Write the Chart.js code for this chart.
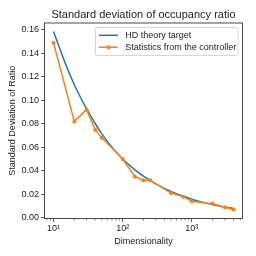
<!DOCTYPE html>
<html>
<head>
<meta charset="utf-8">
<script src="https://cdn.jsdelivr.net/npm/chart.js@4"></script>
<style>
html,body{margin:0;padding:0;background:#fff;}
#wrap{width:256px;height:256px;}
</style>
</head>
<body>
<div id="wrap"><canvas id="c" width="256" height="256"></canvas></div>
<script>
const chartTitle = "Standard deviation of occupancy ratio";
const xTitle = "Dimensionality";
const yTitle = "Standard Deviation of Ratio";
const seriesNames = ["HD theory target", "Statistics from the controller"];

const theoryDims = [10, 15, 20, 30, 40, 50, 70, 100, 150, 200, 300, 500, 700, 1000, 1500, 2000, 3000, 4000];
const theoryVals = [0.1585, 0.1305, 0.1132, 0.0928, 0.0802, 0.0714, 0.0601, 0.0500, 0.0408, 0.0354, 0.0289, 0.0224, 0.0189, 0.0158, 0.0129, 0.0112, 0.0091, 0.0079];

const ctrlDims = [10, 20, 30, 40, 50, 100, 150, 200, 250, 500, 750, 1000, 2000, 3000, 4000];
const ctrlVals = [0.149, 0.082, 0.092, 0.075, 0.068, 0.050, 0.035, 0.032, 0.032, 0.021, 0.018, 0.014, 0.012, 0.009, 0.007];

const xMajorTicks = [10, 100, 1000];
const xMajorLabels = ["10\u00B9", "10\u00B2", "10\u00B3"];
const xMinorTicks = [8, 9, 20, 30, 40, 50, 60, 70, 80, 90, 200, 300, 400, 500, 600, 700, 800, 900, 2000, 3000, 4000, 5000];
const yTicks = [0.00, 0.02, 0.04, 0.06, 0.08, 0.10, 0.12, 0.14, 0.16];

const BLUE = "#1f77b4", ORANGE = "#ff7f0e", INK = "#222";
const FONT = "Liberation Sans, Arial, sans-serif";

const decorPlugin = {
  id: "decor",
  afterDraw(chart) {
    const ctx = chart.ctx;
    const a = chart.chartArea;
    const xs = chart.scales.x;
    ctx.save();
    // minor ticks
    ctx.strokeStyle = "#333";
    ctx.lineWidth = 0.6;
    xMinorTicks.forEach(v => {
      const px = xs.getPixelForValue(v);
      if (px < a.left || px > a.right) return;
      ctx.beginPath();
      ctx.moveTo(px, a.bottom);
      ctx.lineTo(px, a.bottom + 2);
      ctx.stroke();
    });
    // frame
    ctx.strokeStyle = "#333";
    ctx.lineWidth = 0.9;
    ctx.strokeRect(a.left, a.top, a.right - a.left, a.bottom - a.top);
    // title
    ctx.fillStyle = INK;
    ctx.textAlign = "center";
    ctx.textBaseline = "middle";
    ctx.font = "11px " + FONT;
    ctx.fillText(chartTitle, (a.left + a.right) / 2, 14.5);
    // x title
    ctx.font = "9px " + FONT;
    ctx.fillText(xTitle, (a.left + a.right) / 2, 241.7);
    // y title
    ctx.save();
    ctx.translate(13, (a.top + a.bottom) / 2);
    ctx.rotate(-Math.PI / 2);
    ctx.fillText(yTitle, 0, 0);
    ctx.restore();
    // legend
    const bx = 95.5, by = 27.5, bw = 142.5, bh = 28;
    ctx.beginPath();
    if (ctx.roundRect) ctx.roundRect(bx, by, bw, bh, 2); else ctx.rect(bx, by, bw, bh);
    ctx.fillStyle = "rgba(255,255,255,0.8)";
    ctx.fill();
    ctx.strokeStyle = "#cccccc";
    ctx.lineWidth = 0.8;
    ctx.stroke();
    const rows = [{y: 35.3, c: BLUE, m: false}, {y: 47.2, c: ORANGE, m: true}];
    rows.forEach((r, i) => {
      ctx.strokeStyle = r.c;
      ctx.lineWidth = 1.5;
      ctx.beginPath();
      ctx.moveTo(99, r.y);
      ctx.lineTo(118, r.y);
      ctx.stroke();
      if (r.m) {
        ctx.fillStyle = r.c;
        ctx.beginPath();
        ctx.arc(108.5, r.y, 2, 0, Math.PI * 2);
        ctx.fill();
      }
      ctx.fillStyle = INK;
      ctx.textAlign = "left";
      ctx.font = "9px " + FONT;
      ctx.fillText(seriesNames[i], 125.3, r.y);
    });
    ctx.restore();
  }
};

new Chart(document.getElementById("c"), {
  type: "line",
  data: {
    datasets: [
      {
        label: seriesNames[0],
        data: theoryDims.map((d, i) => ({x: d, y: theoryVals[i]})),
        borderColor: BLUE,
        borderWidth: 1.5,
        pointRadius: 0,
        cubicInterpolationMode: "monotone",
        order: 1
      },
      {
        label: seriesNames[1],
        data: ctrlDims.map((d, i) => ({x: d, y: ctrlVals[i]})),
        borderColor: ORANGE,
        backgroundColor: ORANGE,
        borderWidth: 1.5,
        pointRadius: 2,
        pointBorderWidth: 0,
        pointBackgroundColor: ORANGE,
        tension: 0,
        order: 0
      }
    ]
  },
  options: {
    responsive: false,
    animation: false,
    devicePixelRatio: 1,
    layout: {padding: {top: 23, right: 13.5, left: 0, bottom: 0}},
    plugins: {legend: {display: false}, title: {display: false}, tooltip: {enabled: false}},
    scales: {
      x: {
        type: "logarithmic",
        min: 7.41,
        max: 5395,
        afterBuildTicks: s => { s.ticks = xMajorTicks.map(v => ({value: v})); },
        afterFit: s => { s.height = 256 - 218.5; },
        grid: {display: true, drawOnChartArea: false, drawTicks: true, tickLength: 3.5, tickColor: "#333", tickWidth: 0.8},
        border: {display: false},
        ticks: {
          autoSkip: false, maxRotation: 0, minRotation: 0, padding: 1.5,
          color: INK, font: {family: FONT, size: 9},
          callback: (v) => { const i = xMajorTicks.indexOf(v); return i >= 0 ? xMajorLabels[i] : ""; }
        }
      },
      y: {
        type: "linear",
        min: -0.0006,
        max: 0.1657,
        afterBuildTicks: s => { s.ticks = yTicks.map(v => ({value: v})); },
        afterFit: s => { s.width = 44.5; },
        grid: {display: true, drawOnChartArea: false, drawTicks: true, tickLength: 3.5, tickColor: "#333", tickWidth: 0.8},
        border: {display: false},
        ticks: {
          padding: 2, color: INK, font: {family: FONT, size: 9},
          callback: (v) => v.toFixed(2)
        }
      }
    }
  },
  plugins: [decorPlugin]
});
</script>
</body>
</html>
